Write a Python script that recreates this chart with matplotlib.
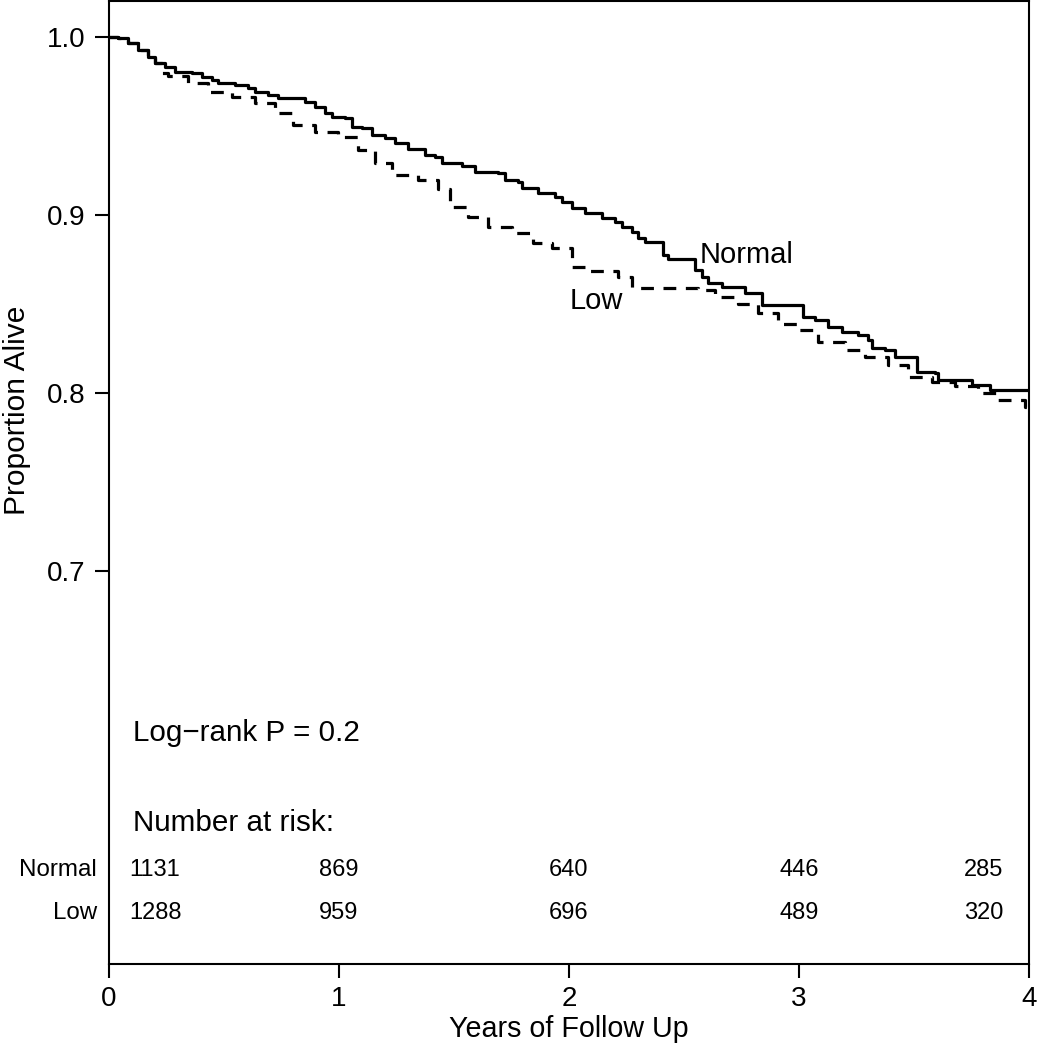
import matplotlib
matplotlib.use('Agg')
import matplotlib.pyplot as plt

plt.rcParams['font.family'] = ['Liberation Sans', 'DejaVu Sans']

# Kaplan-Meier estimates (time in years, survival)
normal_t = [0.000, 0.039, 0.083, 0.126, 0.170, 0.200, 0.243, 0.287, 0.361,
            0.404, 0.448, 0.474, 0.548, 0.604, 0.635, 0.691, 0.735, 0.852,
            0.896, 0.939, 0.970, 1.026, 1.057, 1.100, 1.143, 1.200, 1.243,
            1.300, 1.374, 1.417, 1.448, 1.535, 1.591, 1.691, 1.722, 1.778,
            1.796, 1.865, 1.939, 1.970, 2.013, 2.070, 2.143, 2.200, 2.230,
            2.274, 2.300, 2.330, 2.409, 2.430, 2.548, 2.578, 2.604, 2.665,
            2.765, 2.839, 3.017, 3.070, 3.126, 3.187, 3.257, 3.300, 3.317,
            3.374, 3.417, 3.513, 3.591, 3.604, 3.752, 3.830, 4.000]
normal_s = [1.0000, 0.9994, 0.9966, 0.9927, 0.9888, 0.9854, 0.9831, 0.9803,
            0.9798, 0.9775, 0.9758, 0.9742, 0.9730, 0.9713, 0.9691, 0.9674,
            0.9657, 0.9635, 0.9607, 0.9573, 0.9551, 0.9545, 0.9494, 0.9489,
            0.9449, 0.9433, 0.9404, 0.9371, 0.9337, 0.9326, 0.9292, 0.9275,
            0.9242, 0.9236, 0.9197, 0.9185, 0.9152, 0.9124, 0.9101, 0.9073,
            0.9039, 0.9011, 0.8983, 0.8961, 0.8933, 0.8904, 0.8871, 0.8848,
            0.8775, 0.8753, 0.8691, 0.8652, 0.8618, 0.8596, 0.8562, 0.8494,
            0.8427, 0.8410, 0.8371, 0.8343, 0.8326, 0.8298, 0.8253, 0.8242,
            0.8202, 0.8118, 0.8112, 0.8073, 0.8045, 0.8017, 0.8017]

low_t = [0.000, 0.039, 0.083, 0.126, 0.170, 0.200, 0.230, 0.257, 0.343,
         0.430, 0.535, 0.635, 0.722, 0.800, 0.896, 0.996, 1.083, 1.157,
         1.230, 1.343, 1.430, 1.483, 1.561, 1.648, 1.752, 1.843, 1.926,
         2.013, 2.070, 2.213, 2.274, 2.561, 2.635, 2.735, 2.822, 2.909,
         2.996, 3.083, 3.200, 3.287, 3.387, 3.474, 3.578, 3.678, 3.778,
         3.865, 3.983, 4.000]
low_s = [1.0000, 0.9994, 0.9966, 0.9927, 0.9888, 0.9854, 0.9798, 0.9781,
         0.9742, 0.9691, 0.9663, 0.9629, 0.9573, 0.9506, 0.9466, 0.9438,
         0.9365, 0.9292, 0.9225, 0.9197, 0.9146, 0.9045, 0.8989, 0.8933,
         0.8899, 0.8843, 0.8815, 0.8708, 0.8685, 0.8652, 0.8590, 0.8579,
         0.8539, 0.8500, 0.8449, 0.8388, 0.8354, 0.8287, 0.8242, 0.8202,
         0.8157, 0.8090, 0.8062, 0.8039, 0.8000, 0.7961, 0.7921, 0.7921]

risk_times = [0, 1, 2, 3, 4]
risk_normal = [1131, 869, 640, 446, 285]
risk_low = [1288, 959, 696, 489, 320]

fig = plt.figure(figsize=(10.37, 10.5), dpi=100)
ax = fig.add_axes([109 / 1037, 86 / 1050, 920 / 1037, 963 / 1050])

ax.plot(normal_t, normal_s, drawstyle='steps-post', color='black', lw=2.3)
ax.plot(low_t, low_s, drawstyle='steps-post', color='black', lw=2.3,
        dashes=(4, 3))

ax.set_xlim(0, 4)
ax.set_ylim(0.4792, 1.0202)
ax.set_xticks([0, 1, 2, 3, 4])
ax.set_yticks([0.7, 0.8, 0.9, 1.0])
ax.set_yticklabels(['0.7', '0.8', '0.9', '1.0'])
ax.tick_params(axis='both', length=10, width=1.5, labelsize=20,
               color='black', labelcolor='black')
ax.tick_params(axis='x', pad=6)
ax.tick_params(axis='y', pad=7)
for sp in ax.spines.values():
    sp.set_linewidth(1.5)

ax.set_xlabel('Years of Follow Up', fontsize=20.6)
ax.xaxis.set_label_coords(0.5, -0.053)
ax.set_ylabel('Proportion Alive', fontsize=21.5)
ax.yaxis.set_label_coords(-0.100, 0.575)
ax.yaxis.label.set_verticalalignment('center')

# curve labels
ax.text(2.57, 0.8775, 'Normal', fontsize=21, ha='left', va='center')
ax.text(2.004, 0.8517, 'Low', fontsize=21, ha='left', va='center')

ax.text(0.104, 0.6090, 'Log\u2212rank P = 0.2', fontsize=21.3,
        ha='left', va='center')
ax.text(0.104, 0.5584, 'Number at risk:', fontsize=21.3,
        ha='left', va='center')

# number at risk table
rows = [(risk_normal, 'Normal', 0.5320), (risk_low, 'Low', 0.5079)]
for counts, name, yy in rows:
    ax.text(-0.052, yy, name, fontsize=17.4, ha='right', va='center',
            clip_on=False)
    for i, (t, n) in enumerate(zip(risk_times, counts)):
        if i == 0:
            x, ha = t + 0.09, 'left'
        elif i == len(risk_times) - 1:
            x, ha = t - 0.113, 'right'
        else:
            x, ha = t, 'center'
        ax.text(x, yy, str(n), fontsize=17, ha=ha, va='center')

fig.savefig('out.png', dpi=100)
